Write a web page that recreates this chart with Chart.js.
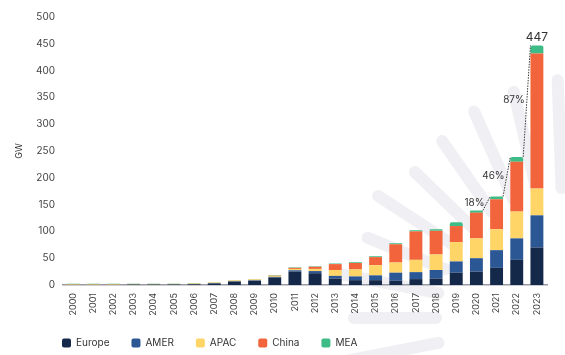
<!DOCTYPE html>
<html>
<head>
<meta charset="utf-8">
<script src="https://cdn.jsdelivr.net/npm/chart.js@4.4.1/dist/chart.umd.min.js"></script>
<style>
html,body{margin:0;padding:0;background:#fff;}
#wrap{width:565px;height:355px;position:relative;}
</style>
</head>
<body>
<div id="wrap"><canvas id="c" width="565" height="355"></canvas></div>
<script>
const years = ['2000','2001','2002','2003','2004','2005','2006','2007','2008','2009','2010','2011','2012','2013','2014','2015','2016','2017','2018','2019','2020','2021','2022','2023'];
const europe = [0.2,0.2,0.2,0.8,0.8,0.9,1.2,3,6.5,8,14,25,22,12,9,9,8,11,12,23,25,32,47,70];
const amer   = [0.2,0.2,0.2,0.2,0.2,0.2,0.3,0.4,0.6,0.8,1.2,2.5,4,5,7,9,15,13,16,21,25,33,40,60];
const apac   = [1.5,1.5,1.5,1,1,1,1.2,1.2,1.4,1.6,2,2.5,4,11,13,19,19,23,29,36,37,39,50,50];
const china  = [0,0,0,0,0,0,0.1,0.1,0.2,0.3,0.5,2,4,11,12,15,34,53,44,30,48,56,93,252];
const mea    = [0.6,0.6,0.6,0.5,0.5,0.5,0.7,0.6,0.6,0.6,0.8,1,1,1,1.5,1.5,2,2,3,7,4,5,9,15];
const totalLabel = '447';
const growth = [{from: 20, label: '18%'}, {from: 21, label: '46%'}, {from: 22, label: '87%'}];

const colors = {europe:'#14284a', amer:'#2b5794', apac:'#fed566', china:'#f2643b', mea:'#3ebc87'};

const raysPlugin = {
  id: 'rays',
  beforeDraw(chart) {
    const ctx = chart.ctx;
    const cx = 566, cy = 318;
    const angles = [92,103,114,125,136,147,158,169,180,191,202];
    const outer  = [238,232,226,216,210,224,214,230,212,222,208];
    ctx.save();
    ctx.strokeStyle = '#f0f0f4';
    ctx.lineWidth = 12;
    ctx.lineCap = 'round';
    angles.forEach((a, i) => {
      const r = a * Math.PI / 180;
      const r0 = 130, r1 = outer[i];
      ctx.beginPath();
      ctx.moveTo(cx + r0 * Math.cos(r), cy - r0 * Math.sin(r));
      ctx.lineTo(cx + r1 * Math.cos(r), cy - r1 * Math.sin(r));
      ctx.stroke();
    });
    ctx.restore();
  }
};

const annotPlugin = {
  id: 'annot',
  beforeLayout(chart) {
    const lg = chart.legend;
    if (lg && !lg._wrapped) {
      const orig = lg.fit;
      lg.fit = function () { orig.call(this); this.height = 30; };
      lg._wrapped = true;
    }
  },
  afterLayout(chart) {
    const lg = chart.legend;
    if (lg) { lg.left += 40; lg.right += 40; lg.top -= 9; lg.bottom = chart.height; }
  },
  afterDatasetsDraw(chart) {
    const ctx = chart.ctx;
    const top = chart.getDatasetMeta(chart.data.datasets.length - 1).data;
    ctx.save();
    ctx.font = '10px Inter, "Open Sans", sans-serif';
    ctx.fillStyle = '#333';
    ctx.textBaseline = 'middle';
    growth.forEach(g => {
      const a = top[g.from], b = top[g.from + 1];
      const x1 = a.x + a.width / 2, y1 = a.y;
      const x2 = b.x - b.width / 2, y2 = b.y;
      ctx.beginPath();
      ctx.setLineDash([1.5, 1.2]);
      ctx.strokeStyle = '#3a3a3a';
      ctx.lineWidth = 1;
      ctx.moveTo(x1, y1);
      ctx.lineTo(x2, y2);
      ctx.stroke();
      ctx.setLineDash([]);
      const mx = (x1 + x2) / 2, my = (y1 + y2) / 2;
      ctx.textAlign = 'right';
      ctx.fillText(g.label, mx - 2, my - 1);
    });
    const last = top[top.length - 1];
    ctx.font = '12px Inter, "Open Sans", sans-serif';
    ctx.textAlign = 'center';
    ctx.textBaseline = 'bottom';
    ctx.fillText(totalLabel, last.x, last.y - 2);
    ctx.restore();
  }
};

const ds = (label, data, color, radius) => ({
  label, data, backgroundColor: color, borderWidth: 0,
  borderRadius: radius ? {topLeft: 2, topRight: 2} : 0, borderSkipped: 'bottom',
  categoryPercentage: 0.8, barPercentage: 0.8
});

new Chart(document.getElementById('c'), {
  type: 'bar',
  data: {
    labels: years,
    datasets: [
      ds('Europe', europe, colors.europe),
      ds('AMER', amer, colors.amer),
      ds('APAC', apac, colors.apac),
      ds('China', china, colors.china),
      ds('MEA', mea, colors.mea, true)
    ]
  },
  options: {
    responsive: false,
    animation: false,
    layout: {padding: {left: 0, right: 18, top: 17, bottom: 0}},
    plugins: {
      legend: {
        position: 'bottom',
        align: 'start',
        labels: {
          boxWidth: 9, boxHeight: 9, padding: 22,
          useBorderRadius: true, borderRadius: 2,
          color: '#333',
          font: {family: 'Inter, "Open Sans", sans-serif', size: 10}
        }
      },
      tooltip: {enabled: false}
    },
    scales: {
      x: {
        stacked: true,
        grid: {display: false, drawTicks: false},
        border: {display: true, color: '#9a9aa6', width: 1.5},
        ticks: {
          minRotation: 90, maxRotation: 90, padding: 8,
          color: '#444',
          font: {family: 'Inter, "Open Sans", sans-serif', size: 9}
        },
        afterFit(s) { s.height = 40; }
      },
      y: {
        stacked: true,
        min: 0, max: 500,
        grid: {display: false, drawTicks: false},
        border: {display: false},
        ticks: {
          stepSize: 50, padding: 8,
          color: '#444',
          font: {family: 'Inter, "Open Sans", sans-serif', size: 10}
        },
        title: {
          display: true, text: 'GW', color: '#333',
          font: {family: 'Inter, "Open Sans", sans-serif', size: 9},
          padding: {top: 14, bottom: 0}
        },
        afterFit(s) { s.width = 63; }
      }
    }
  },
  plugins: [raysPlugin, annotPlugin]
});
</script>
</body>
</html>
